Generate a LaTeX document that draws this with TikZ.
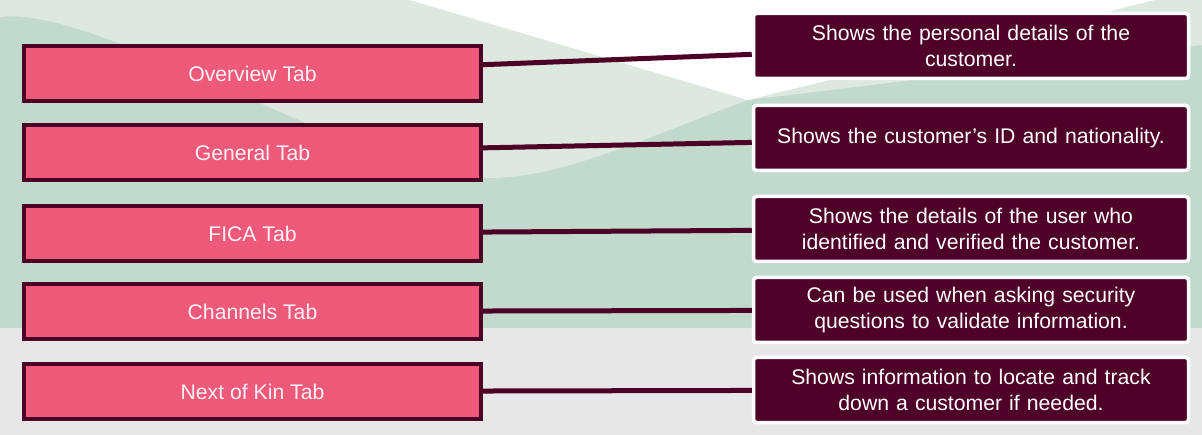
\documentclass[tikz,border=0pt]{standalone}
\usepackage{fontspec}
\setmainfont{Liberation Sans}
\usepackage{xcolor}
\definecolor{tpink}  {RGB}{240, 90,122}
\definecolor{tmaroon}{RGB}{ 77,  0, 38}
\definecolor{imaroon}{RGB}{ 78,  0, 40}
\definecolor{tpale}  {RGB}{255,240,243}
\definecolor{bgrey}  {RGB}{232,231,232}
\definecolor{bdark}  {RGB}{194,217,206}
\definecolor{blight} {RGB}{220,232,224}
\tikzset{
  % Pink tab node
  TabBox/.style={rectangle,draw=tmaroon,fill=tpink,line width=4pt,
                 minimum width=457pt,minimum height=55pt,text=tpale,
                 font=\fontsize{21.2}{26}\selectfont,inner sep=0pt},
  % Maroon info node
  InfoBox/.style={rectangle,rounded corners=3pt,draw=white,fill=imaroon,
                  line width=3.5pt,minimum width=435pt,minimum height=65pt,
                  text width=428pt,align=center,text=white,
                  font=\fontsize{21.2}{26}\selectfont,inner sep=0pt},
  % Connector
  Link/.style={line width=5pt,color=tmaroon},
}
\begin{document}
\begin{tikzpicture}[x=1pt,y=-1pt]
  \useasboundingbox (0,0) rectangle (1202,435);
  % background
  \fill[bgrey] (0,0) rectangle (1202,435);
  \fill[bdark] (0,0) rectangle (1202,328);
  \fill[blight] (0,0) -- (1202,0) -- (1202,45) -- (748,100)
        .. controls (640,140) and (560,178) .. (490,178)
        .. controls (350,170) and (100,5) .. (0,17) -- cycle;
  \fill[white] (410,0) -- (748,100) -- (1155,0) -- cycle;

  \node[TabBox] at (252.5,73.5)  (ov) {Overview Tab};
  \node[TabBox] at (252.5,152.5) (ge) {General Tab};
  \node[TabBox] at (252.5,233.5) (fi) {FICA Tab};
  \node[TabBox] at (252.5,311.5) (ch) {Channels Tab};
  \node[TabBox] at (252.5,391.5) (nk) {Next of Kin Tab};

  \node[InfoBox] at (971,46)  (ovi)
        {Shows the personal details of the\\ customer.};
  \node[InfoBox] at (971,138) (gei)
        {Shows the customer’s ID and nationality.};
  \node[InfoBox] at (971,229) (fii)
        {Shows the details of the user who\\ identified and verified the customer.};
  \node[InfoBox] at (971,310) (chi)
        {Can be used when asking security\\ questions to validate information.};
  \node[InfoBox] at (971,390) (nki)
        {Shows information to locate and track\\ down a customer if needed.};

  \draw[Link] (ov) -- (ovi);
  \draw[Link] (ge) -- (gei);
  \draw[Link] (fi) -- (fii);
  \draw[Link] (ch) -- (chi);
  \draw[Link] (nk) -- (nki);
\end{tikzpicture}
\end{document}
